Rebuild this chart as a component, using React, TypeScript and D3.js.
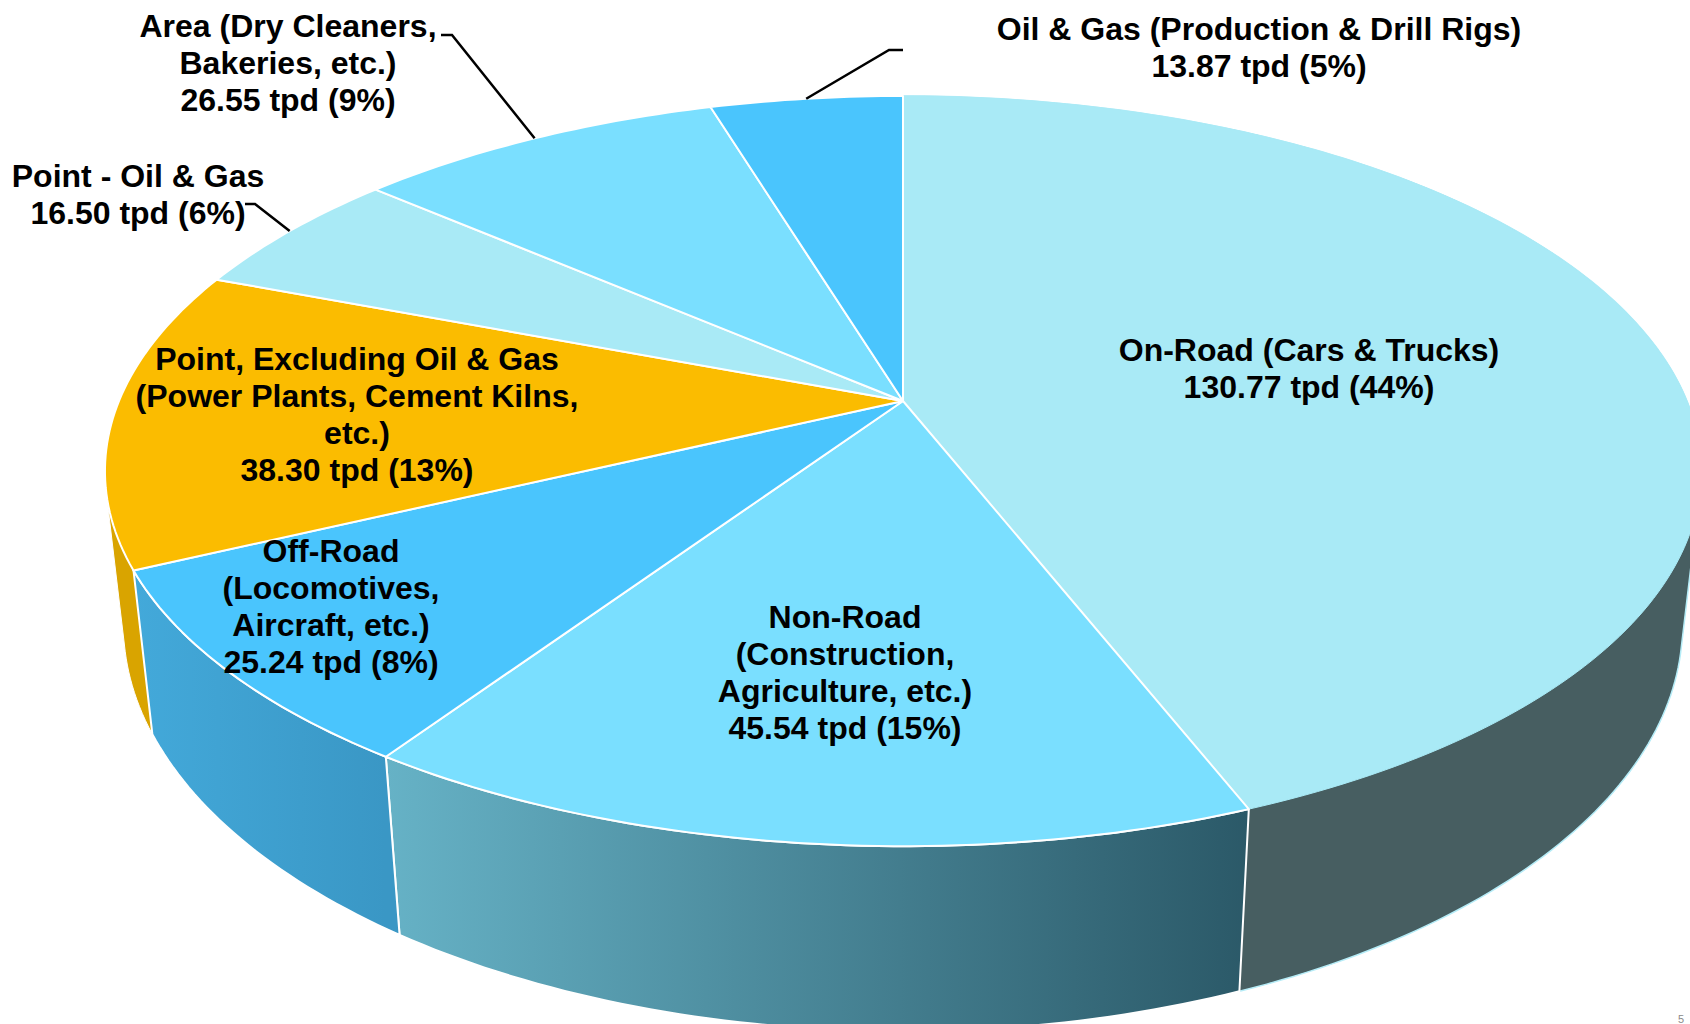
import React from "react";
import * as d3 from "d3";

// tons per day, clockwise from 12 o'clock
const sources = ["On-Road", "Non-Road", "Off-Road", "Point", "Point Oil Gas", "Area", "Oil Gas"];
const tpd = [130.77, 45.54, 25.24, 38.3, 16.5, 26.55, 13.87];
const shares = [44, 15, 8, 13, 6, 9, 5];
const nameLines = [
  ["On-Road (Cars & Trucks)"],
  ["Non-Road", "(Construction,", "Agriculture, etc.)"],
  ["Off-Road", "(Locomotives,", "Aircraft, etc.)"],
  ["Point, Excluding Oil & Gas", "(Power Plants, Cement Kilns,", "etc.)"],
  ["Point - Oil & Gas"],
  ["Area (Dry Cleaners,", "Bakeries, etc.)"],
  ["Oil & Gas (Production & Drill Rigs)"],
];

const topColors = ["#A9EAF6", "#7ADFFF", "#4AC5FD", "#FBBC00", "#A9EAF6", "#7ADFFF", "#4AC5FD"];
const wallFrom = ["#475E61", "#66B2C6", "#43A9DA", "#D9A400", "#A9EAF6", "#7ADFFF", "#4AC5FD"];
const wallTo = ["#475E61", "#2B5968", "#3A97C5", "#D9A400", "#A9EAF6", "#7ADFFF", "#4AC5FD"];

// walls are painted back to front; the two that fold round the side go under their neighbours
const wallOrder = [4, 5, 6, 3, 0, 1, 2];
const foldedWalls = [0, 3];

// label centre of first line
const labelX = [1309, 845, 331, 357, 138, 288, 1259];
const labelY = [350, 617, 551, 359, 176, 26, 29];
// leader: [stub start, knee], runs on to the middle of the slice rim
const leaders: Record<number, [number, number][]> = {
  4: [[245, 204], [255, 204]],
  5: [[441, 35], [452, 35]],
  6: [[903, 50], [889, 50]],
};

const width = 1690;
const height = 1024;
const cx = 903;
const cy = 401;
const rx = 784;
const ry = 362;
const tilt = 0.1868; // perspective, the near rim is bigger
const wallIn = 0.0225;
const wallDrop = 150.5;
const lineGap = 36.9;

// circle angle -> perspective point on the top face
function top(a: number): [number, number] {
  const u = Math.sin(a);
  const v = -Math.cos(a);
  const d = 1 - tilt * v;
  return [cx + (rx * u) / d, cy + (ry * v) / d];
}

// same rim at the foot of the wall, the wall gets taller toward the viewer
function bottom(a: number): [number, number] {
  const [x, y] = top(a);
  const d = 1 + tilt * Math.cos(a);
  return [x - ((x - cx) * wallIn) / d, y + wallDrop / d];
}

function rim(a0: number, a1: number, fn: (a: number) => [number, number]) {
  const n = Math.max(2, Math.ceil((a1 - a0) * 60));
  return d3.range(n + 1).map((i) => fn(a0 + ((a1 - a0) * i) / n));
}

const line = d3.line();

export default function App() {
  const arcs = d3.pie<number>().sort(null)(tpd);

  return (
    <svg
      width={width}
      height={height}
      style={{ position: "fixed", left: 0, top: 0, background: "#fff" }}
      fontFamily="'Liberation Sans', Arial, sans-serif"
    >
      <defs>
        {arcs.map((d, i) => {
          const xs = rim(d.startAngle, d.endAngle, top).map((p) => p[0]);
          return (
            <linearGradient
              key={sources[i]}
              id={"wall" + i}
              gradientUnits="userSpaceOnUse"
              x1={d3.min(xs)}
              x2={d3.max(xs)}
              y1={0}
              y2={0}
            >
              <stop offset="0" stopColor={wallFrom[i]} />
              <stop offset="1" stopColor={wallTo[i]} />
            </linearGradient>
          );
        })}
      </defs>

      {/* side walls, the top face hides the back ones */}
      {wallOrder.map((i) => {
        const d = arcs[i];
        const upper = rim(d.startAngle, d.endAngle, top);
        const lower = rim(d.startAngle, d.endAngle, bottom).reverse();
        const pts = foldedWalls.includes(i)
          ? d3.polygonHull([...upper, ...lower])!
          : [...upper, ...lower];
        return (
          <path
            key={sources[i]}
            d={line(pts) + "Z"}
            fill={`url(#wall${i})`}
            stroke={i === 0 ? "#B5ECF7" : "#fff"}
            strokeWidth={i === 0 ? 1.5 : i === 3 ? 1 : 2}
            strokeLinejoin="round"
          />
        );
      })}

      {/* top face */}
      {arcs.map((d, i) => (
        <path
          key={sources[i]}
          d={line([[cx, cy], ...rim(d.startAngle, d.endAngle, top)]) + "Z"}
          fill={topColors[i]}
          stroke={i === 0 ? topColors[0] : "#fff"}
          strokeWidth={i === 0 ? 1 : 2}
          strokeLinejoin="round"
        />
      ))}

      {/* leaders */}
      {arcs.map((d, i) =>
        leaders[i] ? (
          <path
            key={sources[i]}
            d={line([...leaders[i], top((d.startAngle + d.endAngle) / 2)]) ?? ""}
            fill="none"
            stroke="#000"
            strokeWidth={2.5}
          />
        ) : null
      )}

      {/* labels */}
      {sources.map((s, i) => {
        const lines = [...nameLines[i], `${tpd[i].toFixed(2)} tpd (${shares[i]}%)`];
        return (
          <text key={s} textAnchor="middle" fontSize={32} fontWeight="bold" fill="#000">
            {lines.map((t, j) => (
              <tspan key={j} x={labelX[i]} y={labelY[i] + 11 + j * lineGap}>
                {t}
              </tspan>
            ))}
          </text>
        );
      })}

      <text x={1678} y={1023} fontSize={11} fill="#8a8a8a">
        5
      </text>
    </svg>
  );
}
